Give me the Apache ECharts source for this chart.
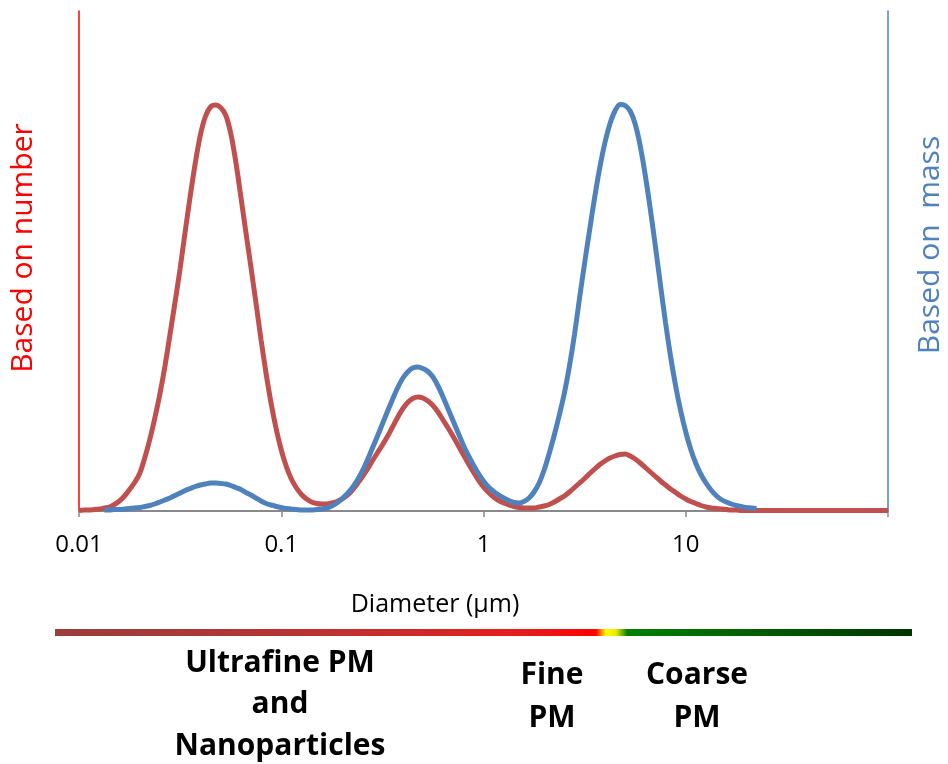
<!DOCTYPE html>
<html>
<head>
<meta charset="utf-8">
<script src="https://cdn.jsdelivr.net/npm/echarts@6/dist/echarts.min.js"></script>
<style>
html,body{margin:0;padding:0;background:#fff;}
#chart{width:948px;height:764px;}
</style>
</head>
<body>
<div id="chart"></div>
<script>
// Diameter (µm): positions along the log axis where the curves were read
var diameters = [
  0.01, 0.01059, 0.01122, 0.01189, 0.01259, 0.01334, 0.01413, 0.01496, 0.01585, 0.01679,
  0.01778, 0.01884, 0.01995, 0.02113, 0.02239, 0.02371, 0.02512, 0.02661, 0.02818, 0.02985,
  0.03162, 0.0335, 0.03548, 0.03758, 0.03981, 0.04217, 0.04467, 0.04732, 0.05012, 0.05309,
  0.05623, 0.05957, 0.0631, 0.06683, 0.0708, 0.07499, 0.07943, 0.08414, 0.08913, 0.09441,
  0.1, 0.1059, 0.1122, 0.1189, 0.1259, 0.1334, 0.1413, 0.1496, 0.1585, 0.1679,
  0.1778, 0.1884, 0.1995, 0.2113, 0.2239, 0.2371, 0.2512, 0.2661, 0.2818, 0.2985,
  0.3162, 0.335, 0.3548, 0.3758, 0.3981, 0.4217, 0.4467, 0.4732, 0.5012, 0.5309,
  0.5623, 0.5957, 0.631, 0.6683, 0.708, 0.7499, 0.7943, 0.8414, 0.8913, 0.9441,
  1, 1.059, 1.122, 1.189, 1.259, 1.334, 1.413, 1.496, 1.585, 1.679,
  1.778, 1.884, 1.995, 2.113, 2.239, 2.371, 2.512, 2.661, 2.818, 2.985,
  3.162, 3.35, 3.548, 3.758, 3.981, 4.217, 4.467, 4.732, 5.012, 5.309,
  5.623, 5.957, 6.31, 6.683, 7.08, 7.499, 7.943, 8.414, 8.913, 9.441,
  10, 10.59, 11.22, 11.89, 12.59, 13.34, 14.13, 14.96, 15.85, 16.79,
  17.78, 18.84, 19.95, 21.13, 22.39,
  100
];
// Based on number (red curve), relative units
var numberDist = [
  0.1, 0.2, 0.2, 0.3, 0.4, 0.6, 0.8, 1.3, 2.0, 3.0,
  4.3, 5.7, 7.5, 10.6, 14.3, 18.6, 23.4, 29.0, 35.3, 41.8,
  48.5, 55.9, 63.0, 69.6, 75.2, 78.9, 80.8, 81.2, 80.7, 79.2,
  75.6, 69.9, 62.9, 55.8, 48.8, 41.6, 34.3, 27.5, 21.5, 16.4,
  12.2, 8.9, 6.4, 4.6, 3.3, 2.4, 1.8, 1.5, 1.4, 1.4,
  1.6, 1.9, 2.4, 3.1, 4.1, 5.4, 6.8, 8.3, 10.0, 11.6,
  13.2, 14.9, 16.8, 18.7, 20.4, 21.7, 22.5, 22.8, 22.6, 22.0,
  21.1, 19.8, 18.2, 16.6, 14.9, 13.1, 11.3, 9.5, 7.8, 6.2,
  4.8, 3.7, 2.8, 2.1, 1.6, 1.2, 0.9, 0.7, 0.6, 0.6,
  0.6, 0.8, 1.0, 1.3, 1.8, 2.4, 3.0, 3.8, 4.7, 5.6,
  6.5, 7.5, 8.4, 9.3, 10.0, 10.6, 11.0, 11.3, 11.4, 11.0,
  10.4, 9.6, 8.7, 7.8, 6.9, 6.0, 5.2, 4.4, 3.7, 3.0,
  2.4, 1.9, 1.5, 1.1, 0.8, 0.6, 0.5, 0.4, 0.3, 0.2,
  0.2, 0.1, 0.1, 0.1, 0.1,
  0.1
];
// Based on mass (blue curve), relative units
var massDist = [
  null, null, null, null, null, 0.2, 0.2, 0.3, 0.3, 0.4,
  0.5, 0.6, 0.7, 0.9, 1.1, 1.4, 1.8, 2.2, 2.6, 3.1,
  3.6, 4.1, 4.5, 4.9, 5.2, 5.4, 5.6, 5.6, 5.5, 5.4,
  5.1, 4.7, 4.3, 3.7, 3.2, 2.6, 2.0, 1.5, 1.2, 0.9,
  0.7, 0.5, 0.4, 0.3, 0.2, 0.2, 0.2, 0.3, 0.4, 0.6,
  1.0, 1.6, 2.4, 3.4, 4.6, 6.1, 7.9, 10.1, 12.5, 14.9,
  17.4, 19.9, 22.3, 24.6, 26.5, 27.8, 28.6, 28.8, 28.5, 27.9,
  26.8, 25.0, 22.8, 20.4, 18.0, 15.6, 13.2, 11.1, 9.2, 7.5,
  6.0, 4.8, 3.9, 3.2, 2.6, 2.1, 1.7, 1.6, 1.9, 2.6,
  3.8, 5.6, 8.2, 11.5, 15.2, 19.2, 23.6, 29.0, 35.3, 42.6,
  49.6, 56.3, 62.8, 68.7, 73.6, 77.4, 80.0, 81.3, 81.1, 80.0,
  77.4, 73.0, 67.1, 60.3, 52.9, 45.2, 37.7, 30.9, 25.0, 20.0,
  15.8, 12.3, 9.5, 7.3, 5.6, 4.2, 3.1, 2.3, 1.8, 1.4,
  1.1, 0.9, 0.7, 0.6, 0.5,
  null
];
var tickLabels = ['0.01', '0.1', '1', '10', ''];

var pairs = function (vals) {
  return diameters.map(function (d, i) { return [d, vals[i]]; });
};

var chart = echarts.init(document.getElementById('chart'), null, {renderer: 'canvas'});
var F = '"Open Sans", "Noto Sans", sans-serif';

chart.setOption({
  animation: false,
  backgroundColor: '#ffffff',
  grid: {left: 79, right: 60, top: 11, bottom: 253},
  xAxis: {
    type: 'log', logBase: 10, min: 0.01, max: 100,
    axisLine: {show: true, lineStyle: {color: '#898989', width: 2}},
    axisTick: {show: true, length: 6, lineStyle: {color: '#898989', width: 1.5}},
    axisLabel: {
      margin: 22, color: '#000', fontSize: 24, fontFamily: F,
      formatter: function (v) {
        var i = Math.round(Math.log10(v)) + 2;
        return tickLabels[i] !== undefined ? tickLabels[i] : '';
      }
    },
    splitLine: {show: false},
    minorTick: {show: false}
  },
  yAxis: [
    {
      type: 'value', min: 0, max: 100, position: 'left',
      axisLine: {show: true, onZero: false, lineStyle: {color: '#ff0000', width: 1.5}},
      axisTick: {show: false}, axisLabel: {show: false}, splitLine: {show: false}
    },
    {
      type: 'value', min: 0, max: 100, position: 'right',
      axisLine: {show: true, onZero: false, lineStyle: {color: '#4f81bd', width: 1.5}},
      axisTick: {show: false}, axisLabel: {show: false}, splitLine: {show: false}
    }
  ],
  series: [
    {
      name: 'Based on number', type: 'line', yAxisIndex: 0,
      data: pairs(numberDist), smooth: 0.3, showSymbol: false,
      lineStyle: {color: '#c0504d', width: 5}, itemStyle: {color: '#c0504d'}, z: 3
    },
    {
      name: 'Based on mass', type: 'line', yAxisIndex: 1,
      data: pairs(massDist), smooth: 0.3, showSymbol: false,
      lineStyle: {color: '#4f81bd', width: 5}, itemStyle: {color: '#4f81bd'}, z: 4
    }
  ],
  graphic: [
    {type: 'text', x: 23, y: 248, rotation: Math.PI / 2,
     style: {text: 'Based on number', fill: '#ff0000', font: '30px ' + F, textAlign: 'center', textVerticalAlign: 'middle'}},
    {type: 'text', x: 930, y: 245, rotation: Math.PI / 2,
     style: {text: 'Based on  mass', fill: '#4f81bd', font: '30px ' + F, textAlign: 'center', textVerticalAlign: 'middle'}},
    {type: 'text', x: 435, y: 605,
     style: {text: 'Diameter (\u03bcm)', fill: '#000', font: '25px ' + F, textAlign: 'center', textVerticalAlign: 'middle'}},
    {type: 'rect', shape: {x: 55, y: 629, width: 857, height: 7},
     style: {fill: new echarts.graphic.LinearGradient(0, 0, 1, 0, [
       {offset: 0, color: '#993d3d'},
       {offset: 0.33, color: '#bf3131'},
       {offset: 0.55, color: '#e61c1c'},
       {offset: 0.631, color: '#ff0000'},
       {offset: 0.643, color: '#ffff00'},
       {offset: 0.655, color: '#e8e800'},
       {offset: 0.668, color: '#008000'},
       {offset: 1, color: '#003300'}
     ])}},
    {type: 'text', x: 280, y: 663,
     style: {text: 'Ultrafine PM', fill: '#000', font: 'bold 30px ' + F, textAlign: 'center', textVerticalAlign: 'middle'}},
    {type: 'text', x: 280, y: 704,
     style: {text: 'and', fill: '#000', font: 'bold 30px ' + F, textAlign: 'center', textVerticalAlign: 'middle'}},
    {type: 'text', x: 280, y: 746,
     style: {text: 'Nanoparticles', fill: '#000', font: 'bold 30px ' + F, textAlign: 'center', textVerticalAlign: 'middle'}},
    {type: 'text', x: 552, y: 675,
     style: {text: 'Fine', fill: '#000', font: 'bold 30px ' + F, textAlign: 'center', textVerticalAlign: 'middle'}},
    {type: 'text', x: 552, y: 718,
     style: {text: 'PM', fill: '#000', font: 'bold 30px ' + F, textAlign: 'center', textVerticalAlign: 'middle'}},
    {type: 'text', x: 697, y: 675,
     style: {text: 'Coarse', fill: '#000', font: 'bold 30px ' + F, textAlign: 'center', textVerticalAlign: 'middle'}},
    {type: 'text', x: 697, y: 718,
     style: {text: 'PM', fill: '#000', font: 'bold 30px ' + F, textAlign: 'center', textVerticalAlign: 'middle'}}
  ]
});
</script>
</body>
</html>
